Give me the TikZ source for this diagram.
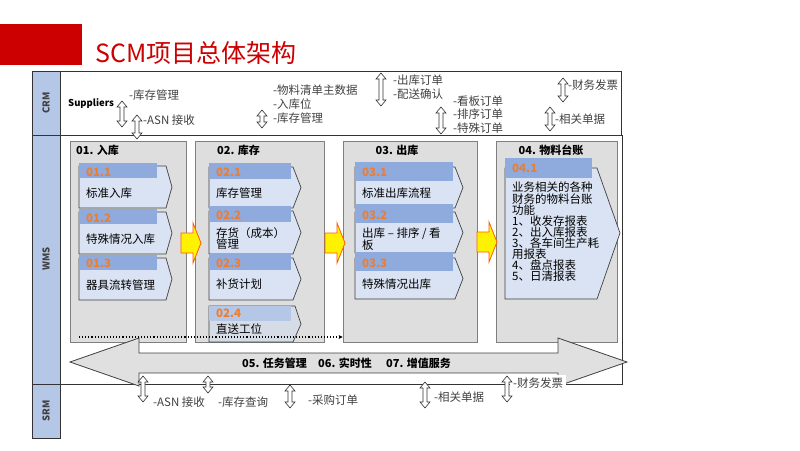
\documentclass[tikz,border=0pt]{standalone}
\usepackage{fontspec}
\setmainfont{Noto Sans CJK SC}
\usetikzlibrary{arrows.meta}
\definecolor{scmred}{HTML}{CC0000}
\definecolor{lblblue}{HTML}{B4C7E7}
\definecolor{hdrblue}{HTML}{8FAADC}
\definecolor{hdrlight}{HTML}{B4C7E7}
\definecolor{chevfill}{HTML}{DAE3F3}
\definecolor{chevgray}{HTML}{D6DCE5}
\definecolor{numorange}{HTML}{ED7D31}
\definecolor{boxgray}{HTML}{DEDEDE}
\definecolor{boxline}{HTML}{7F7F7F}
\definecolor{txtgray}{HTML}{404040}
\definecolor{arrgray}{HTML}{E0E0E0}
\tikzset{
 lblbox/.style={draw=black!80, fill=lblblue, line width=0.8pt},
 rowlbl/.style={rotate=90, inner sep=0, font=\fontsize{9.5}{10}\selectfont\bfseries, text=txtgray},
 graybox/.style={draw=boxline, fill=boxgray, line width=0.8pt, inner sep=0},
 chev/.style={draw=black!75, fill=chevfill, line width=0.7pt},
 hdr/.style={fill=hdrblue},
 num/.style={anchor=west, inner sep=0, text=numorange, font=\fontsize{11.5}{12}\selectfont\bfseries},
 body/.style={anchor=west, inner sep=0, text=black, font=\fontsize{11.5}{12}\selectfont},
 ttl/.style={inner sep=0, font=\fontsize{11}{12}\selectfont\bfseries},
 note/.style={anchor=west, inner sep=0, text=txtgray, font=\fontsize{11.5}{12}\selectfont},
 dblarr/.style={draw=black!80, fill=white, line width=0.6pt},
 yarr/.style={fill=yellow, draw=orange!70!red, line width=0.8pt},
 frameline/.style={draw=black!80, line width=0.9pt},
}
\newcommand\dblv[3]{\begin{scope}[shift={(#1,#2)}]
 \draw[dblarr] (0,0) -- (5,6) -- (2,6) -- (2,{#3-6}) -- (5,{#3-6}) -- (0,#3) -- (-5,{#3-6}) -- (-2,{#3-6}) -- (-2,6) -- (-5,6) -- cycle;
\end{scope}}
\newcommand\chevpath[5]{% x0 xr xtip yt yb
 \draw[chev] (#1,#4) -- (#2,#4) -- (#3,{(#4+#5)/2}) -- (#2,#5) -- (#1,#5) -- cycle;}
\begin{document}
\begin{tikzpicture}[x=1pt,y=-1pt]
\useasboundingbox (0,0) rectangle (800,450);
% header
\fill[scmred] (0,24) rectangle (82,65);
\node[anchor=west, inner sep=0, text=scmred, font=\fontsize{25}{26}\selectfont] (title) at (95,53) {SCM项目总体架构};
% frames
\draw[frameline] (60,71) rectangle (621,135);
\draw[frameline] (60,135) rectangle (622,384);
\draw[lblbox] (32,71) rectangle (60,135);
\draw[lblbox] (32,135) rectangle (60,384);
\draw[lblbox] (32,384) rectangle (60,438);
\node[rowlbl] (crm) at (46,103) {CRM};
\node[rowlbl] (wms) at (46,259) {WMS};
\node[rowlbl] (srm) at (46,411) {SRM};
% CRM row
\node[anchor=west, inner sep=0, font=\fontsize{9.5}{11}\selectfont\bfseries] (sup) at (68,104) {Suppliers};
\dblv{122}{101}{26}
\dblv{137}{115}{24}
\dblv{262}{110}{18}
\dblv{381}{73}{33}
\dblv{441}{107}{27}
\dblv{563}{78}{24}
\dblv{550}{107}{24}
\node[note] (c1) at (129,95) {-库存管理};
\node[note] (c2) at (143,120) {-ASN 接收};
\node[note] (c3) at (273,90) {-物料清单主数据};
\node[note] (c4) at (273,104) {-入库位};
\node[note] (c5) at (273,118) {-库存管理};
\node[note] (c6) at (393,80) {-出库订单};
\node[note] (c7) at (393,94) {-配送确认};
\node[note] (c8) at (453,101) {-看板订单};
\node[note] (c9) at (453,114) {-排序订单};
\node[note] (c10) at (453,128) {-特殊订单};
\node[note] (c11) at (568,85) {-财务发票};
\node[note] (c12) at (555,119) {-相关单据};
% gray boxes
\node[graybox, minimum width=116, minimum height=201] (b1) at (128,241.5) {};
\node[graybox, minimum width=129, minimum height=201] (b2) at (259.5,241.5) {};
\node[graybox, minimum width=134, minimum height=201] (b3) at (410,241.5) {};
\node[graybox, minimum width=121, minimum height=201] (b4) at (556.5,241.5) {};
\node[ttl, anchor=west] (t1) at (76,150) {01. 入库};
\node[ttl, anchor=west] (t2) at (217,150) {02. 库存};
\node[ttl] (t3) at (397,150) {03. 出库};
\node[ttl] (t4) at (551,150) {04. 物料台账};
% column 1
\chevpath{79}{166}{172}{166}{208}
\fill[hdr] (79,163) rectangle (157,178);
\node[num] (n11) at (86,172) {01.1};
\node[body] (s11) at (86,193) {标准入库};
\chevpath{79}{166}{172}{212}{254}
\fill[hdr] (79,209) rectangle (157,224);
\node[num] (n12) at (86,218) {01.2};
\node[body] (s12) at (86,239) {特殊情况入库};
\chevpath{79}{166}{172}{258}{300}
\fill[hdr] (79,255) rectangle (157,270);
\node[num] (n13) at (86,263) {01.3};
\node[body] (s13) at (86,285) {器具流转管理};
% column 2
\chevpath{209}{293}{301}{167}{208}
\fill[hdr] (209,163) rectangle (291,179);
\node[num] (n21) at (216,172) {02.1};
\node[body] (s21) at (216,193) {库存管理};
\chevpath{209}{293}{301}{211}{254}
\fill[hdr] (209,206) rectangle (291,222);
\node[num] (n22) at (216,215) {02.2};
\node[body] (s22) at (216,233) {存货（成本）};
\node[body] (s22b) at (216,244) {管理};
\chevpath{209}{293}{301}{258}{300}
\fill[hdr] (209,254) rectangle (291,270);
\node[num] (n23) at (216,263) {02.3};
\node[body] (s23) at (216,284) {补货计划};
\draw[chev, fill=chevgray] (209,306) -- (295,306) -- (301,324) -- (293,342) -- (209,342) -- cycle;
\fill[hdrlight] (209.4,306.4) rectangle (291,321);
\node[num] (n24) at (216,313) {02.4};
\node[body] (s24) at (216,329) {直送工位};
% column 3
\chevpath{355}{455}{463}{167}{208}
\fill[hdr] (355,162) rectangle (453,181);
\node[num] (n31) at (362,172) {03.1};
\node[body] (s31) at (362,193) {标准出库流程};
\chevpath{355}{455}{463}{212}{253}
\fill[hdr] (355,204) rectangle (453,223);
\node[num] (n32) at (362,215) {03.2};
\node[body] (s32) at (362,234) {出库 – 排序 / 看};
\node[body] (s32b) at (362,245) {板};
\chevpath{355}{455}{463}{258}{299}
\fill[hdr] (355,252) rectangle (453,271);
\node[num] (n33) at (362,263) {03.3};
\node[body] (s33) at (362,284) {特殊情况出库};
% column 4
\draw[chev] (505,168) -- (597,168) -- (620,233) -- (597,299) -- (505,299) -- cycle;
\fill[hdr] (505,158) rectangle (592,178);
\node[num] (n41) at (512,168) {04.1};
\node[anchor=north west, inner sep=0, align=left, font=\fontsize{11.5}{11.1}\selectfont] (s41) at (512,182)
 {业务相关的各种\\财务的物料台账\\功能\\1、收发存报表\\2、出入库报表\\3、各车间生产耗\\用报表\\4、盘点报表\\5、日清报表};
% yellow arrows
\draw[yarr] (181,233) -- (193,233) -- (193,223) -- (201,243) -- (193,263) -- (193,253) -- (181,253) -- cycle;
\draw[yarr] (325,233) -- (337,233) -- (337,223) -- (345,243) -- (337,263) -- (337,253) -- (325,253) -- cycle;
\draw[yarr] (477,232) -- (489,232) -- (489,222) -- (497,242) -- (489,262) -- (489,252) -- (477,252) -- cycle;
% dotted arrow
\coordinate (dotS) at (79,337);
\draw[dotted, line width=1.1pt, -{Stealth[length=4pt,width=4pt]}] (dotS) -- (dotS -| b3.west);
% big double arrow
\draw[draw=black!75, fill=arrgray, line width=0.8pt] (70,362) -- (139,338) -- (139,353) -- (558,353) -- (558,338) -- (627,362) -- (558,386) -- (558,373) -- (139,373) -- (139,386) -- cycle;
\node[ttl, anchor=west] (m5) at (242,363) {05. 任务管理};
\node[ttl, anchor=west] (m6) at (318,363) {06. 实时性};
\node[ttl, anchor=west] (m7) at (386,363) {07. 增值服务};
% SRM row
\node[note, fill=white, inner xsep=3pt, inner ysep=3pt] (r5) at (510,383) {-财务发票};
\dblv{143}{376}{26}
\dblv{208}{376}{17}
\dblv{290}{385}{23}
\dblv{425}{382}{26}
\dblv{507}{376}{26}
\node[note] (r1) at (153,402) {-ASN 接收};
\node[note] (r2) at (218,402) {-库存查询};
\node[note] (r3) at (308,400) {-采购订单};
\node[note] (r4) at (434,397) {-相关单据};
\end{tikzpicture}
\end{document}
